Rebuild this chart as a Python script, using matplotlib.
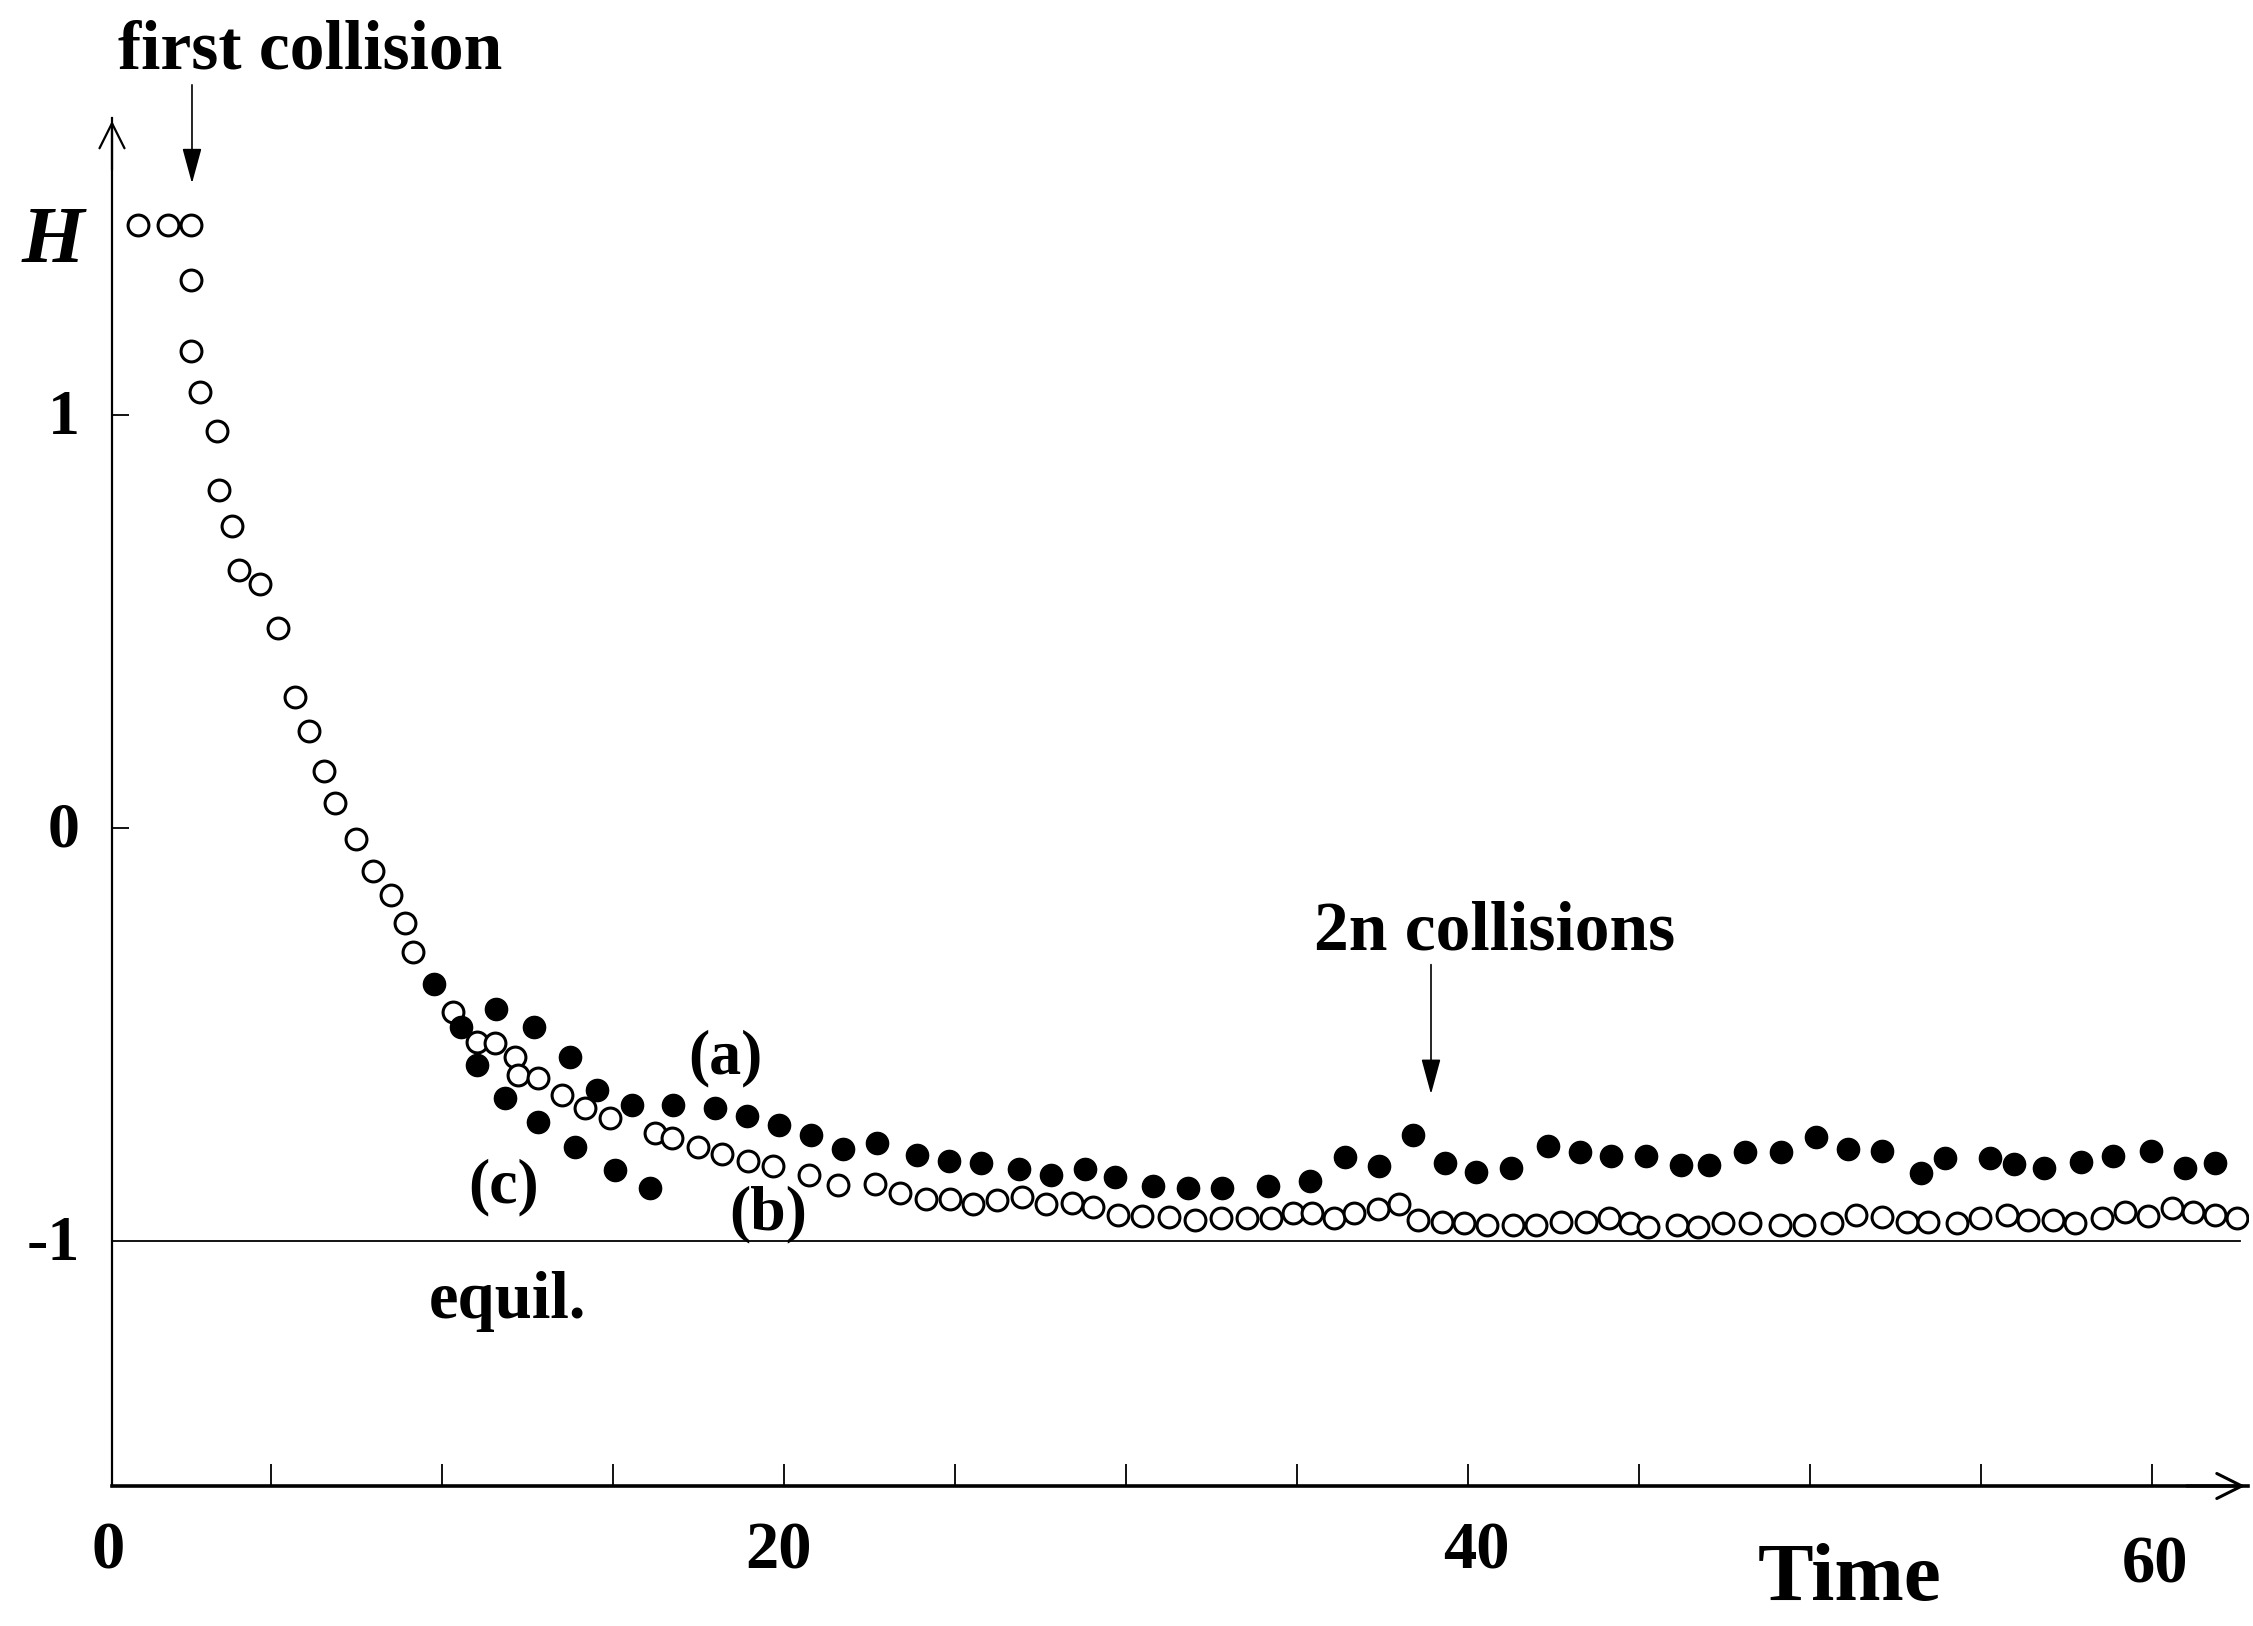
import matplotlib
matplotlib.use("Agg")
import matplotlib.pyplot as plt
import numpy as np

plt.rcParams['font.family'] = ['Liberation Serif', 'DejaVu Serif']
plt.rcParams['font.weight'] = 'bold'

# curve (b): open circles
t_b = [1.12, 2.00, 2.65, 2.65, 2.65, 2.92, 3.41, 3.48, 3.87, 4.07, 4.68, 5.21,
       5.70, 6.11, 6.55, 6.87, 7.48, 7.99, 8.51, 8.92, 9.16, 10.33, 11.01, 11.55,
       12.13, 12.23, 12.82, 13.50, 14.18, 14.91, 16.23, 16.72, 17.49, 18.18, 18.96,
       19.68, 20.74, 21.59, 22.66, 23.39, 24.14, 24.85, 25.54, 26.22, 26.95, 27.66,
       28.41, 29.04, 29.78, 30.46, 31.27, 32.02, 32.77, 33.53, 34.23, 34.89, 35.43,
       36.09, 36.68, 37.38, 37.99, 38.55, 39.23, 39.88, 40.56, 41.31, 41.99, 42.71,
       43.45, 44.13, 44.74, 45.27, 46.10, 46.73, 47.47, 48.25, 49.12, 49.82, 50.66,
       51.35, 52.12, 52.83, 53.46, 54.29, 54.97, 55.75, 56.38, 57.11, 57.75, 58.53,
       59.21, 59.89, 60.58, 61.21, 61.84, 62.49]
h_b = [1.46, 1.46, 1.46, 1.326, 1.155, 1.055, 0.96, 0.818, 0.731, 0.625, 0.59, 0.484,
       0.316, 0.234, 0.139, 0.061, -0.027, -0.105, -0.162, -0.23, -0.30, -0.445, -0.517, -0.521,
       -0.554, -0.598, -0.604, -0.646, -0.679, -0.703, -0.739, -0.751, -0.772, -0.789, -0.806,
       -0.819, -0.840, -0.864, -0.862, -0.883, -0.897, -0.897, -0.910, -0.901, -0.893, -0.910,
       -0.907, -0.917, -0.937, -0.939, -0.941, -0.949, -0.945, -0.945, -0.945, -0.933, -0.933,
       -0.945, -0.931, -0.923, -0.910, -0.949, -0.953, -0.956, -0.961, -0.961, -0.961, -0.953,
       -0.953, -0.945, -0.957, -0.965, -0.961, -0.965, -0.956, -0.957, -0.961, -0.961, -0.956,
       -0.937, -0.941, -0.953, -0.953, -0.957, -0.945, -0.937, -0.949, -0.949, -0.957, -0.945,
       -0.929, -0.939, -0.921, -0.929, -0.937, -0.945]

# curve (a): filled circles
t_a = [9.78, 10.57, 11.58, 12.70, 13.74, 14.52, 15.55, 16.76, 17.98, 18.91, 19.86,
       20.78, 21.72, 22.71, 23.88, 24.82, 25.76, 26.87, 27.80, 28.80, 29.68, 30.80,
       31.82, 32.82, 34.16, 35.38, 36.40, 37.40, 38.40, 39.33, 40.25, 41.25, 42.35,
       43.27, 44.17, 45.22, 46.22, 47.06, 48.10, 49.15, 50.19, 51.12, 52.12, 53.25,
       53.95, 55.26, 55.97, 56.84, 57.94, 58.87, 59.96, 60.98, 61.84]
h_a = [-0.378, -0.481, -0.437, -0.481, -0.554, -0.634, -0.671, -0.671, -0.679, -0.697, -0.719,
       -0.743, -0.776, -0.763, -0.792, -0.806, -0.812, -0.826, -0.840, -0.826, -0.844, -0.867,
       -0.872, -0.872, -0.867, -0.854, -0.797, -0.818, -0.743, -0.810, -0.832, -0.824, -0.770,
       -0.784, -0.793, -0.793, -0.816, -0.816, -0.784, -0.784, -0.749, -0.776, -0.781, -0.836,
       -0.800, -0.800, -0.814, -0.822, -0.808, -0.794, -0.781, -0.822, -0.810]

# curve (c): filled circles, short run
t_c = [11.01, 11.84, 12.82, 13.89, 15.06, 16.08]
h_c = [-0.574, -0.654, -0.711, -0.772, -0.828, -0.872]

x_ticks = [5, 10, 15, 20, 25, 30, 35, 40, 45, 50, 55, 60]
x_labels = ['0', '20', '40', '60']
x_label_pos = [0.23, 19.85, 40.26, 60.09]
y_ticks = [0, 1]
y_labels = ['1', '0', '-1']
y_label_pos = [1, 0, -1]
equil = -1.0


def main():
    fig = plt.figure(figsize=(22.53, 16.26), dpi=100)
    ax = fig.add_axes([112 / 2253, 140 / 1626, 2136 / 2253, 1368 / 1626])
    ax.set_xlim(0.351, 62.81)
    ax.set_ylim(-1.593, 1.719)

    for s in ['top', 'right']:
        ax.spines[s].set_visible(False)
    ax.spines['bottom'].set_linewidth(2.6)
    ax.spines['left'].set_linewidth(1.6)

    ax.set_xticks(x_ticks)
    ax.set_xticklabels([])
    ax.tick_params(axis='x', direction='in', length=16, width=1.3)
    ax.set_yticks(y_ticks)
    ax.set_yticklabels([])
    ax.tick_params(axis='y', direction='in', length=12, width=1.3)

    # axis arrow heads
    ax.annotate('', xy=(1.0, 0), xytext=(0.97, 0), xycoords='axes fraction',
                arrowprops=dict(arrowstyle='->', lw=2.2, mutation_scale=45, color='black'))
    ax.annotate('', xy=(0, 1.0), xytext=(0, 0.96), xycoords='axes fraction',
                arrowprops=dict(arrowstyle='->', lw=1.6, mutation_scale=45, color='black'))

    ax.axhline(equil, xmin=0, xmax=(2240 - 112) / 2136, color='black', lw=1.3)

    ax.plot(t_b, h_b, 'o', ms=15, mfc='white', mec='black', mew=2.2, ls='none', zorder=3)
    ax.plot(t_a, h_a, 'o', ms=16, mfc='black', mec='black', ls='none', zorder=4)
    ax.plot(t_c, h_c, 'o', ms=16, mfc='black', mec='black', ls='none', zorder=4)

    for lab, pos in zip(x_labels, x_label_pos):
        yb = -1.826 if lab == '60' else -1.792
        ax.text(pos, yb, lab, ha='center', va='baseline', fontsize=48,
                fontweight='bold', clip_on=False)
    for lab, pos in zip(y_labels, y_label_pos):
        ax.text(-0.6, pos - 0.045, lab, ha='right', va='baseline', fontsize=46,
                fontweight='bold', clip_on=False)

    ax.text(-1.37, 1.37, 'H', ha='center', va='baseline', fontsize=58,
            fontweight='bold', fontstyle='italic', clip_on=False)
    ax.text(51.17, -1.87, 'Time', ha='center', va='baseline', fontsize=60,
            fontweight='bold', clip_on=False)

    ax.text(6.14, 1.84, 'first collision', ha='center', va='baseline', fontsize=50,
            fontweight='bold', clip_on=False)
    ax.annotate('', xy=(2.69, 1.554), xytext=(2.69, 1.806), annotation_clip=False,
                arrowprops=dict(arrowstyle='-|>,head_length=1.1,head_width=0.3',
                                lw=1.2, mutation_scale=20, color='black'))
    ax.text(40.79, -0.295, '2n collisions', ha='center', va='baseline', fontsize=50,
            fontweight='bold')
    ax.annotate('', xy=(38.92, -0.651), xytext=(38.92, -0.324),
                arrowprops=dict(arrowstyle='-|>,head_length=1.1,head_width=0.3',
                                lw=1.2, mutation_scale=20, color='black'))

    ax.text(18.30, -0.593, '(a)', ha='center', va='baseline', fontsize=46, fontweight='bold')
    ax.text(19.53, -0.971, '(b)', ha='center', va='baseline', fontsize=46, fontweight='bold')
    ax.text(11.81, -0.906, '(c)', ha='center', va='baseline', fontsize=46, fontweight='bold')
    ax.text(11.90, -1.186, 'equil.', ha='center', va='baseline', fontsize=48, fontweight='bold')

    fig.savefig('out.png', dpi=100)


if __name__ == "__main__":
    main()
